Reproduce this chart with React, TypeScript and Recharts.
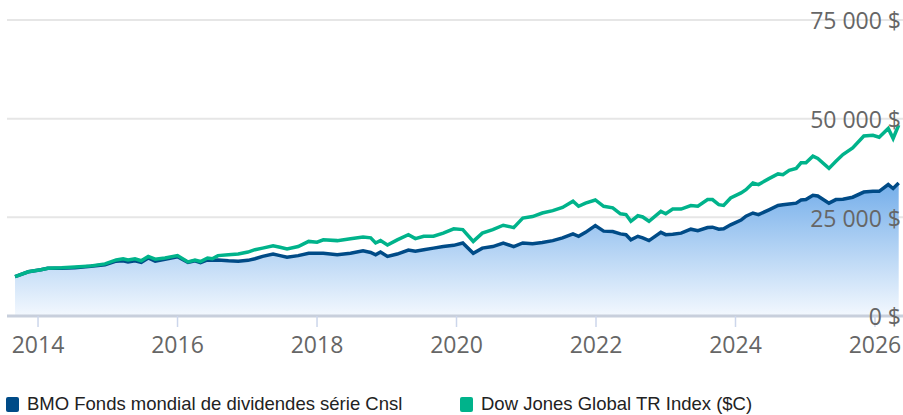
import { ComposedChart, Area, Line, XAxis, YAxis, CartesianGrid } from "recharts";

// decimal years of each reading
const dates = [
  2013.67, 2013.86, 2014.04, 2014.14, 2014.34, 2014.53, 2014.76, 2014.96, 2015.12, 2015.22,
  2015.29, 2015.39, 2015.48, 2015.58, 2015.68, 2015.82, 2016.0, 2016.15, 2016.25, 2016.33,
  2016.43, 2016.5, 2016.58, 2016.73, 2016.87, 2017.01, 2017.11, 2017.22, 2017.37, 2017.47,
  2017.57, 2017.73, 2017.88, 2018.0, 2018.09, 2018.29, 2018.48, 2018.66, 2018.77, 2018.84,
  2018.91, 2019.01, 2019.15, 2019.31, 2019.41, 2019.53, 2019.67, 2019.81, 2019.96, 2020.09,
  2020.24, 2020.37, 2020.52, 2020.67, 2020.82, 2020.95, 2021.09, 2021.23, 2021.38, 2021.52,
  2021.67, 2021.75, 2021.85, 2021.99, 2022.11, 2022.24, 2022.35, 2022.43, 2022.5, 2022.6,
  2022.67, 2022.76, 2022.93, 2023.0, 2023.1, 2023.22, 2023.36, 2023.46, 2023.6, 2023.67,
  2023.76, 2023.83, 2023.93, 2024.08, 2024.15, 2024.25, 2024.33, 2024.48, 2024.61, 2024.68,
  2024.77, 2024.87, 2024.94, 2025.01, 2025.11, 2025.18, 2025.34, 2025.44, 2025.54, 2025.68,
  2025.84, 2025.97, 2026.06, 2026.19, 2026.26, 2026.34,
];

const bmoValues = [
  10000, 11200, 11700, 12100, 12100, 12200, 12600, 13000, 13900, 14000,
  13700, 14000, 13600, 14700, 13900, 14400, 15000, 13600, 14000, 13500,
  14200, 14100, 14200, 14000, 13900, 14100, 14500, 15100, 15700, 15300,
  14900, 15300, 15900, 15900, 15900, 15500, 15900, 16500, 16100, 15500,
  16200, 15100, 15700, 16700, 16400, 16800, 17200, 17600, 17900, 18500,
  15900, 17200, 17600, 18500, 17600, 18500, 18300, 18600, 19100, 19800,
  20800, 20200, 21200, 22900, 21500, 21400, 20800, 20600, 19300, 20200,
  19800, 19100, 21200, 20600, 20700, 21000, 22000, 21600, 22400, 22500,
  22000, 22100, 23100, 24300, 25300, 26100, 25700, 26900, 28000, 28200,
  28400, 28600, 29400, 29500, 30600, 30400, 28600, 29500, 29600, 30100,
  31400, 31600, 31600, 33300, 32300, 33700,
];

const djgValues = [
  10000, 11200, 11700, 12100, 12200, 12400, 12700, 13200, 14200, 14500,
  14200, 14500, 14000, 15100, 14400, 14700, 15300, 13700, 14200, 13800,
  14700, 14500, 15300, 15500, 15700, 16200, 16800, 17200, 17800, 17400,
  17000, 17600, 18900, 18700, 19300, 19100, 19600, 20000, 19800, 18500,
  19100, 18000, 19300, 20600, 19600, 20200, 20200, 21000, 22100, 21900,
  18900, 21000, 21900, 23000, 22400, 24800, 25200, 26100, 26700, 27500,
  29100, 27800, 28600, 29400, 27800, 27400, 25900, 25700, 24000, 25400,
  25100, 24000, 26500, 25900, 27100, 27100, 28000, 27800, 29500, 29500,
  28200, 28000, 29900, 31200, 32000, 33700, 33300, 34800, 36000, 35800,
  36900, 37400, 38800, 38800, 40500, 39900, 37400, 39200, 40900, 42600,
  45600, 45800, 45300, 47500, 45000, 48400,
];

const yearTicks = [2014, 2016, 2018, 2020, 2022, 2024, 2026];
const valueTicks = [0, 25000, 50000, 75000];
const seriesNames = ["BMO Fonds mondial de dividendes série Cnsl", "Dow Jones Global TR Index ($C)"];

const BLUE = "#004b87";
const GREEN = "#00b38b";

const data = dates.map((d, i) => ({ date: d, bmo: bmoValues[i], djg: djgValues[i] }));

const formatMoney = (v: number) =>
  String(v).replace(/\B(?=(\d{3})+(?!\d))/g, " ") + " $";

// y labels sit inside the plot, right-aligned against the edge
const MoneyTick = (props: any) => {
  const { y, payload } = props;
  return (
    <text
      x={901}
      y={y + 1}
      dy="0.36em"
      textAnchor="end"
      fill="#666"
      fontSize={23}
      fontFamily="'Open Sans'"
    >
      {formatMoney(payload.value)}
    </text>
  );
};

export default function App() {
  return (
    <div style={{ position: "absolute", left: 0, top: 0, width: 903, height: 415, background: "#fff" }}>
      <ComposedChart
        width={904}
        height={360}
        data={data}
        margin={{ top: 20, right: 0, left: 7, bottom: 0 }}
      >
        <defs>
          <linearGradient id="bmoFill" x1="0" y1="0" x2="0" y2="1">
            <stop offset="0%" stopColor="#74aeea" />
            <stop offset="100%" stopColor="#f3f8fe" />
          </linearGradient>
        </defs>
        <CartesianGrid vertical={false} stroke="#e6e6e6" strokeWidth={2} />
        <XAxis
          type="number"
          dataKey="date"
          domain={[2013.555, 2026.416]}
          allowDataOverflow
          ticks={yearTicks}
          interval={0}
          height={44}
          tickFormatter={(v) => String(v)}
          axisLine={{ stroke: "#c8cfdc", strokeWidth: 3 }}
          tickLine={{ stroke: "#ccd6eb", strokeWidth: 1.5 }}
          tickSize={11}
          tickMargin={10}
          tick={{ fill: "#666", fontSize: 23, fontFamily: "'Open Sans'" }}
        />
        <YAxis
          orientation="right"
          mirror
          width={1}
          domain={[0, 75000]}
          ticks={valueTicks}
          interval={0}
          axisLine={false}
          tickLine={false}
          tick={<MoneyTick />}
        />
        <Area
          type="linear"
          dataKey="bmo"
          stroke="none"
          fill="url(#bmoFill)"
          fillOpacity={1}
          isAnimationActive={false}
        />
        <Line type="linear" dataKey="bmo" stroke={BLUE} strokeWidth={3.5} dot={false} isAnimationActive={false} />
        <Line type="linear" dataKey="djg" stroke={GREEN} strokeWidth={3.5} dot={false} isAnimationActive={false} />
      </ComposedChart>
      <div
        style={{
          position: "absolute",
          top: 396,
          left: 0,
          width: 903,
          height: 16,
          fontFamily: "'Liberation Sans', Arial, sans-serif",
          fontSize: 18.5,
          color: "#222",
        }}
      >
        {seriesNames.map((name, i) => (
          <div
            key={name}
            style={{
              position: "absolute",
              left: i === 0 ? 6 : 460,
              top: 0,
              height: 16,
              display: "flex",
              alignItems: "center",
              whiteSpace: "nowrap",
            }}
          >
            <span
              style={{
                display: "inline-block",
                width: 13,
                height: 15,
                borderRadius: 2,
                background: i === 0 ? BLUE : GREEN,
                marginRight: 8,
              }}
            />
            <span style={{ lineHeight: "16px" }}>{name}</span>
          </div>
        ))}
      </div>
    </div>
  );
}
